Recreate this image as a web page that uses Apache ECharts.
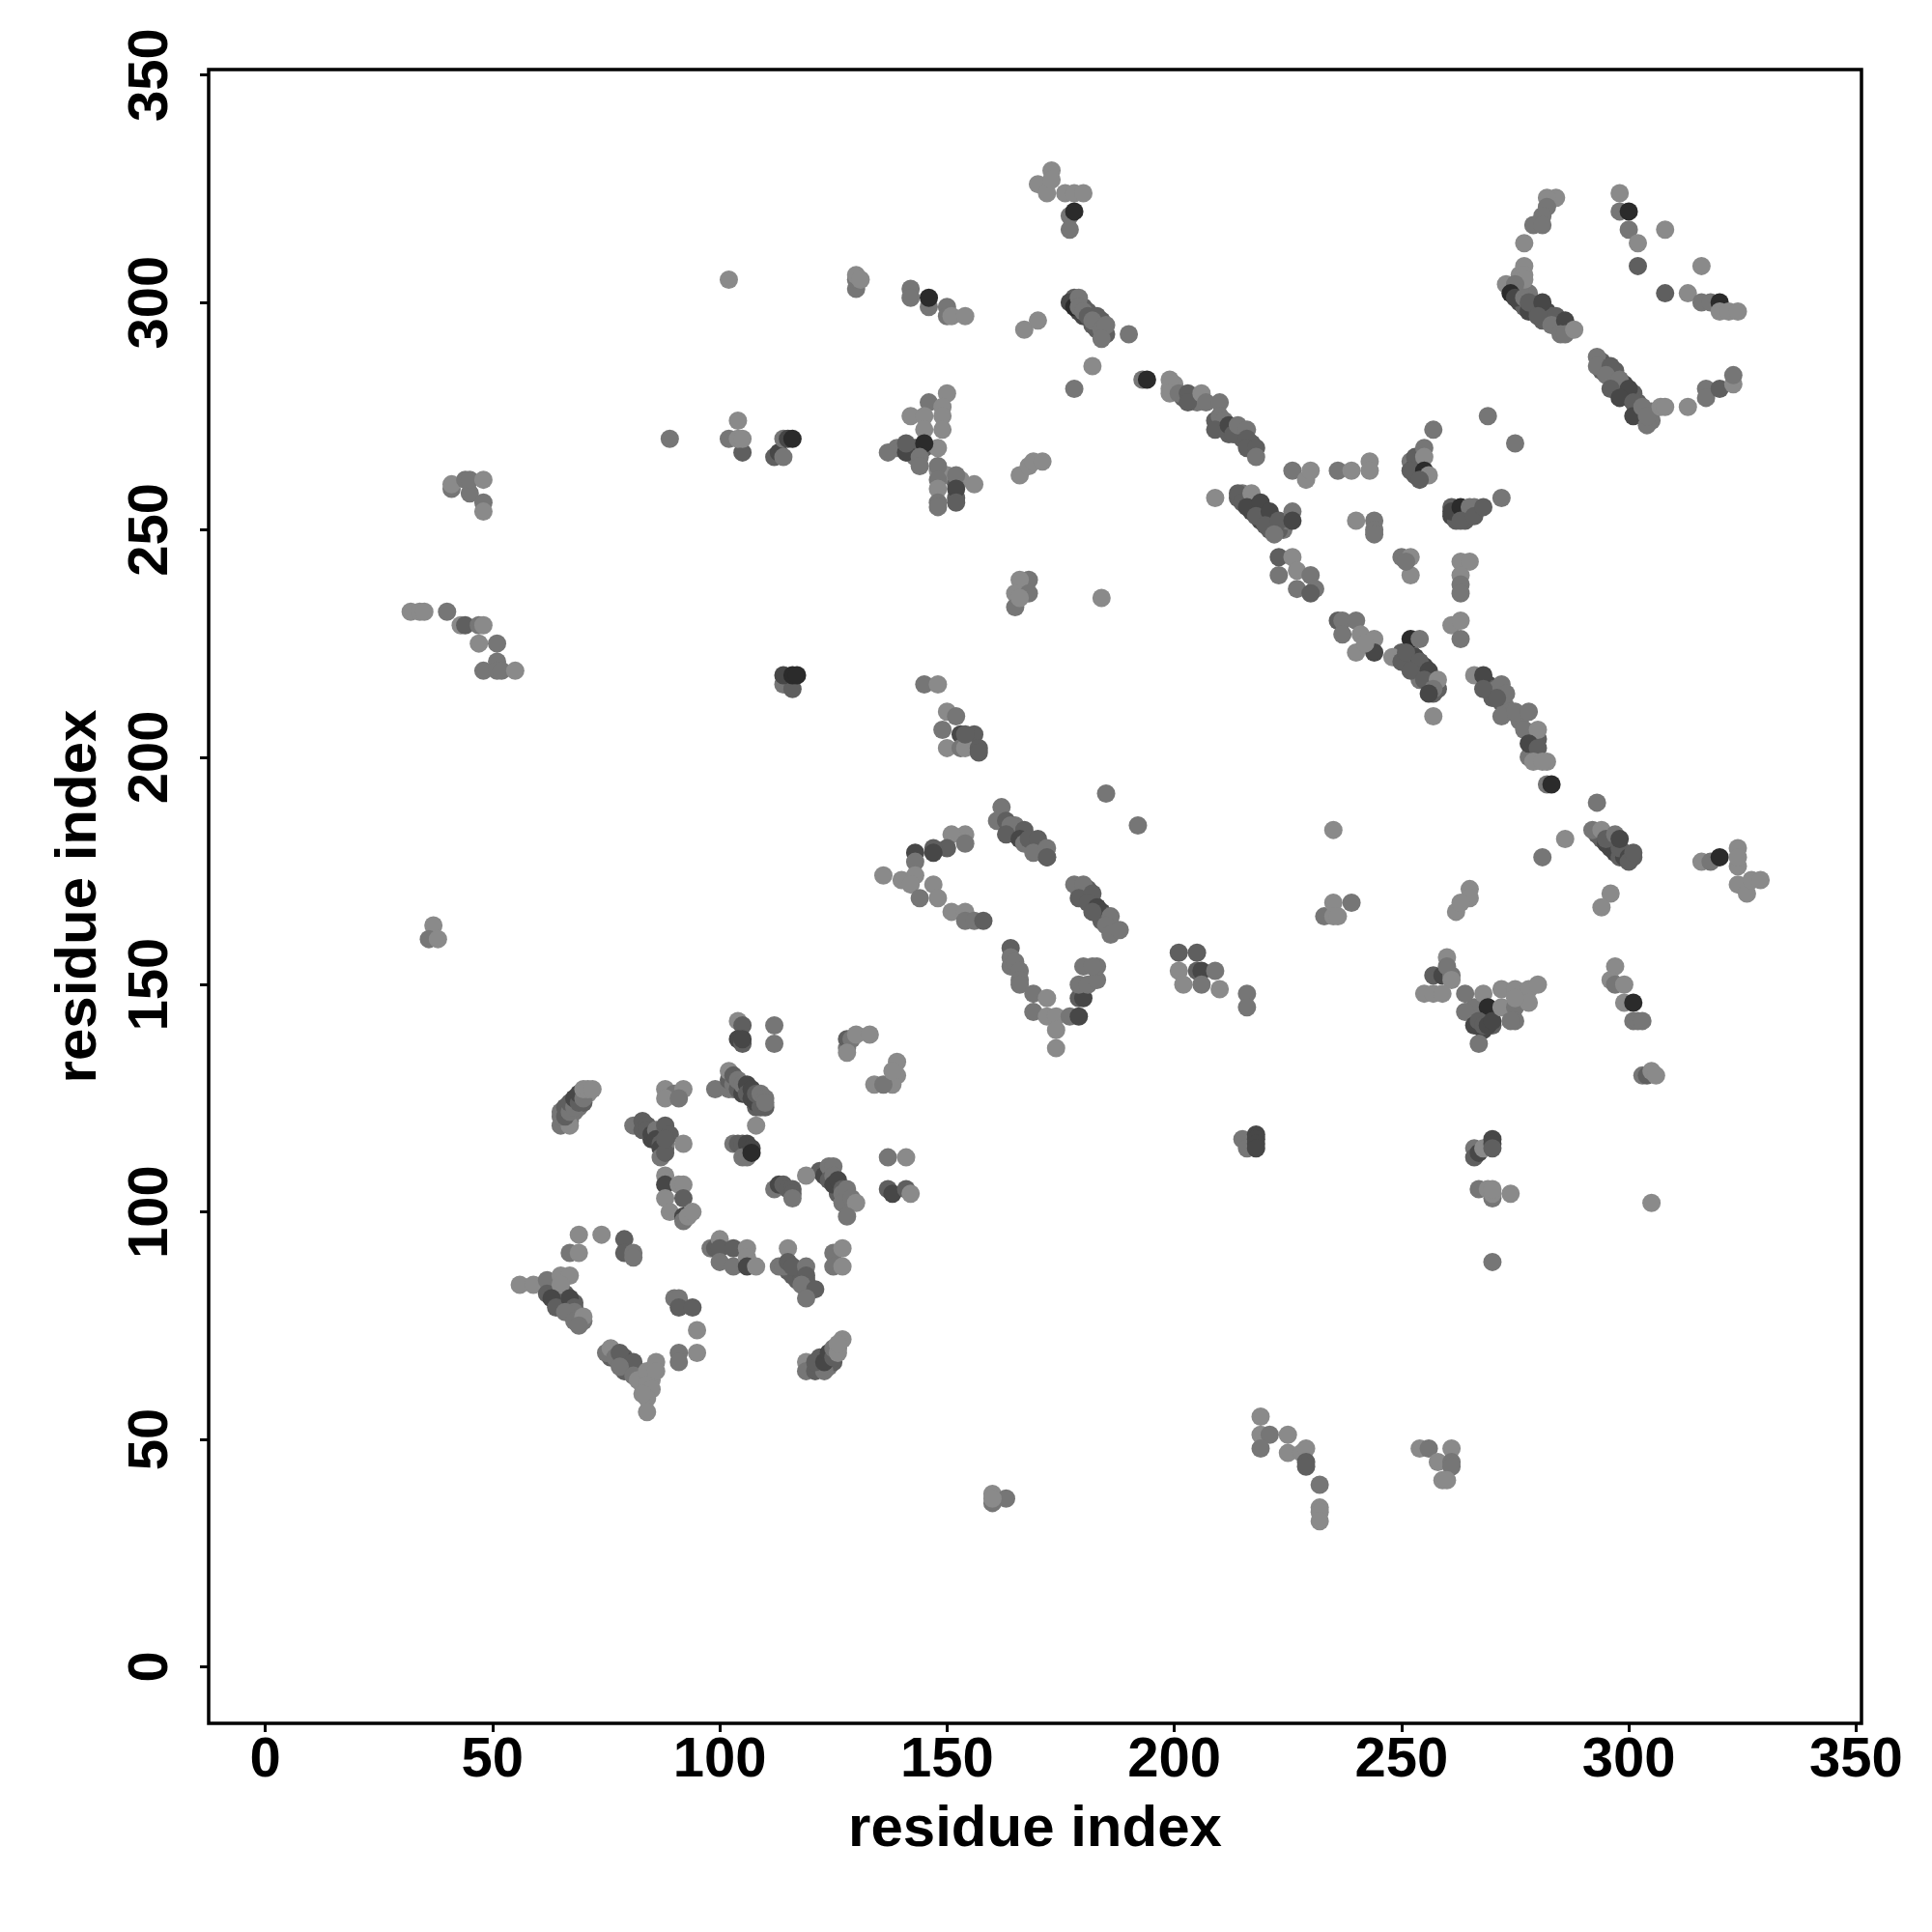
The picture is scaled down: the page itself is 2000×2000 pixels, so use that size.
<!DOCTYPE html>
<html><head><meta charset="utf-8">
<style>html,body{margin:0;padding:0;background:#fff}#c{width:2000px;height:2000px}</style>
<script src="https://cdn.jsdelivr.net/npm/echarts@6/dist/echarts.min.js"></script>
</head><body><div id="c"></div>
<script>
// each contact: [residue i, residue j, strength 1 (weak) .. 5 (strong)]
const tickValues = [0,50,100,150,200,250,300,350];
const axisTitle = 'residue index';

const contactsUnder = [[214,257,3],[215,258,2],[216,257,4],[217,256,4],[217,254,4],[218,255,5],[219,254,4],[219,252,4],[220,253,4],[221,252,4],[221,250,3],[222,251,3],[224,250,2],
 [250,223,3],[251,222,4],[252,221,4],[252,223,3],[253,220,4],[253,222,4],[254,219,4],[255,220,4],[255,218,4],[256,217,4],[256,216,3],[257,217,3],[257,214,3],[258,215,3],[254,217,2],
 [293,183,3],[294,182,3],[295,181,4],[296,182,4],[296,180,4],[297,179,4],[297,181,4],[298,178,3],[299,179,3],[299,178,4],[301,178,3],
 [163,185,3],[164,184,4],[165,183,4],[166,184,3],[167,182,4],[168,181,4],[169,180,4],[170,180,3],[171,179,4],[172,178,3],[165,185,2],
 [179,171,3],[180,170,4],[181,169,4],[181,171,3],[182,168,4],[183,167,3],[184,166,4],[184,164,3],[185,165,3],[186,163,3],[187,162,3],
 [178,301,3],[179,298,4],[180,297,4],[180,299,3],[181,298,3],[182,295,3],[183,294,3],[182,297,3],[184,296,3],[185,293,3],
 [275,302,4],[276,300,4],[277,299,3],[278,298,4],[279,299,4],[280,298,3],[281,296,3],[282,298,4],[283,297,3],[284,295,4],[285,296,3],[286,294,3],[287,294,3],[276,304,2],[278,302,2],[278,301,2],[276,306,1],
 [294,287,3],[294,285,3],[295,286,4],[296,284,3],[297,285,3],[297,282,3],[298,281,4],[299,282,4],[299,280,4],[300,279,4],[301,280,3],[302,278,3],[302,276,3],[303,275,4],[304,276,3],[305,276,2],[305,274,2],
 [212,271,3],[214,271,4],[215,270,3],[217,269,3],[209,274,3],
 [268,217,3],[269,216,4],[270,215,3],[270,213,3],[271,215,2],[272,212,3],[273,211,2],[274,210,2],[276,208,2],[279,204,3],[280,204,3],[278,200,2],
 [66,120,2],[67,120,2],[67,123,2],[68,122,2],[68,124,2],[69,123,2],[69,125,3],[70,124,3],[70,126,2],[71,126,1],
 [64,83,3],[65,81,4],[66,80,4],[66,82,3],[67,79,4],[68,80,3],[69,77,3],[70,76,2],
 [76,68,3],[77,69,2],[78,67,3],[79,68,3],[79,65,3],[80,67,4],[81,66,3],[82,65,2],[83,62,2],[83,64,2],[84,63,2],[85,63,1],
 [102,128,2],[103,129,2],[103,127,2],[104,128,3],[105,127,3],[106,127,4],[107,126,4],[108,125,4],[108,123,3],[109,124,3],[109,125,4],[110,123,3],
 [123,109,3],[124,108,3],[125,107,4],[126,106,3],[126,104,3],[127,103,3],[128,103,2],[128,104,2],
 [84,119,2],[85,118,3],[85,116,4],[86,117,3],[87,117,3],[87,116,4],[88,114,3],[88,115,2],
 [114,88,3],[115,87,3],[116,87,3],[116,86,3],[117,85,3],[118,86,3],[118,85,3],[118,87,3],[119,84,3],[119,85,3],[120,83,3],
 [122,66,2],[122,68,3],[124,67,3],[124,66,2],[125,67,3],[126,70,2],
 [252,265,2],[253,264,4],[254,265,4],[254,263,5],[255,262,3],[253,262,3],
 [261,253,4],[262,254,3],[262,252,3],[264,253,4],[264,252,3],[266,255,2],
 [145,268,3],[142,268,4],[143,268,3],[143,266,2],[144,268,3],[140,268,3],[139,268,2],[148,263,1],[149,262,2],[150,262,1],[152,260,3],[152,257,3],[153,261,1],
 [268,140,4],[269,143,3],[267,143,3],[266,144,1],[269,142,4],[270,141,3],[266,145,2],
 [200,282,1],[199,281,1],[202,279,3],[204,279,3],[205,278,2],[223,250,3],[225,252,2]];
const contactsA = [[65,119,2],[67,119,1],[65,121,2],[65,122,2],[66,121,3],[66,123,3],[67,122,2],[67,124,3],[68,123,2],[68,125,4],[69,124,3],[69,126,4],[70,125,2],[70,127,1],[71,127,1],[72,127,1],
 [88,127,1],[90,126,2],[92,127,1],[88,125,1],[91,125,2],
 [81,119,2],[83,120,3],[83,118,3],[84,119,3],[84,118,3],[85,117,4],[86,118,2],[86,116,4],[87,115,3],[87,114,4],[87,112,2],[88,113,3],[88,119,3],[89,117,3],[88,116,3],[92,115,1]];
const contactsB = [[99,127,2],[102,127,2],[102,129,3],[102,131,1],[103,128,2],[103,130,3],[104,127,3],[104,129,2],[105,126,4],[105,128,2],[106,128,4],[106,126,3],[107,127,4],[107,125,4],[108,124,4],[108,126,3],[109,123,3],[109,126,2],[110,125,2],[110,124,2],[108,119,1],
 [104,142,1],[105,141,3],[104,138,4],[105,137,3],[105,138,4],[112,141,2],[112,137,2],
 [128,136,2],[128,138,3],[129,138,2],[130,139,1],[133,139,1],[128,135,1],[139,133,1],[139,130,1],[138,128,1],[134,128,1],[136,128,2],[138,131,1]];
const contactsC = [[103,115,2],[104,115,3],[105,115,3],[106,115,4],[105,112,2],[106,112,2],[107,114,4],[107,113,5],
 [122,109,3],[123,108,4],[124,110,2],[125,110,2],[124,107,3],[125,108,2],[125,106,4],[126,107,4],[127,105,3],[127,104,2],[127,102,2],[128,105,2],[129,103,2],[130,102,1],[128,99,2],[119,108,1],
 [112,105,2],[113,106,4],[114,106,3],[115,105,3],[116,105,3],[116,104,3],[116,103,2],
 [137,112,2],[141,112,1],[137,105,3],[138,104,4],[141,105,3],[142,104,1]];
const contactsD = [[88,108,1],[88,106,4],[91,106,1],[92,106,1],[88,103,1],[92,103,3],[89,100,1],[92,99,4],[92,98,2],[93,99,1],[94,100,1],
 [98,92,2],[99,92,3],[100,94,1],[100,92,3],[100,89,2],[103,92,3],[103,88,2],[106,92,1],[106,90,1],[106,88,4],[108,88,1],
 [115,92,1],[113,88,2],[114,88,2],[115,89,3],[116,88,3],[119,88,2],[119,86,3],[118,84,2],[121,83,3],[119,81,2],
 [125,91,2],[127,92,1],[125,88,2],[127,88,1],
 [119,67,1],[119,65,2],[121,65,3],[123,65,2],[121,67,3],[123,67,4],[124,69,4],[125,68,3],[125,70,2],[127,72,1],[126,69,1],[126,71,1]];
const contactsE = [[56,84,1],[59,84,1],[62,85,2],[62,82,3],[65,86,1],[67,86,1],[65,84,1],[63,81,4],[64,79,3],[67,81,4],[68,79,3],[68,78,2],[66,78,2],[68,76,2],[70,77,1],[69,75,2],
 [69,95,1],[74,95,1],[67,91,2],[69,91,1],[79,94,3],[79,91,3],[81,91,2],[81,90,2],
 [75,69,2],[76,70,1],[77,68,2],[78,69,3],[80,66,3],[81,67,3],[78,66,2],[81,64,2],[82,63,1],[84,65,1],[86,67,1],[86,65,1],[84,62,1],[85,61,1],[84,59,1],[83,60,1],[84,56,1],
 [91,69,2],[91,67,2],[95,74,1],[95,69,1],[90,81,2],[91,81,2],[91,79,3],[94,79,3]];
const contactsF = [[164,158,3],[164,156,2],[164,154,2],[165,155,2],[166,153,2],[166,151,2],[166,150,2],[169,148,2],[172,147,1],[169,144,2],[172,143,1],[174,143,1],[174,140,1],[174,136,1],[177,143,2],[179,143,4],[179,147,3],[180,147,4],[179,150,2],[181,150,2],[183,151,2],[183,154,2],[180,154,2],[182,154,2],
 [201,157,3],[205,157,3],[201,153,1],[205,153,3],[206,153,4],[209,153,2],[202,150,1],[206,150,2],[210,149,1],[216,148,2],[216,145,2],
 [255,148,1],[257,148,1],[257,152,3],[259,152,4],[261,152,2],[260,156,1],[260,154,2],[261,151,1],[259,148,1],[264,148,2],[264,144,2],[268,148,1],[269,145,5],[266,141,4],[267,142,3],[268,141,3],[269,141,4],[270,142,4],[267,137,2],[272,149,1],[275,149,1],[278,149,1],[280,150,1],[272,145,1],[275,145,2],[278,146,1],[275,142,2],[274,142,2],[275,147,1]];
const contactsG = [[297,154,1],[296,151,1],[297,150,2],[299,150,1],[299,146,1],[301,146,5],[301,142,2],[302,142,2],[303,142,2],[303,130,2],[304,130,3],[305,131,1],[306,130,1],
 [215,116,2],[216,114,2],[218,117,4],[218,116,4],[218,115,4],[218,114,4],
 [266,114,2],[266,112,3],[267,113,4],[268,114,1],[270,116,4],[270,115,4],[270,114,3],
 [267,105,2],[269,105,1],[270,103,2],[270,104,1],[270,105,1],[274,104,1],[305,102,1],[270,89,2],
 [160,38,1],[160,36,2],[163,37,2],[160,37,1],
 [219,55,1],[219,51,1],[221,51,2],[219,48,2],[225,51,1],[225,47,1],[228,47,1],[229,48,1],[229,45,3],[229,44,3],[232,40,2],[232,35,1],[232,34,1],[232,32,1],
 [254,48,1],[256,48,2],[261,48,1],[258,45,1],[261,45,2],[261,44,2],[259,41,1],[260,41,1]];
const contactsH = [[173,329,1],[170,326,1],[172,324,1],[173,327,1],[176,324,1],[178,324,1],[180,324,1],[177,319,2],[178,320,5],[177,316,2],
 [102,305,1],[130,303,2],[130,305,2],[130,306,1],[131,305,1],
 [142,303,2],[142,301,2],[146,299,2],[146,301,5],[150,299,2],[150,297,2],[151,297,1],[154,297,1],
 [167,294,1],[170,296,1],
 [177,300,4],[178,299,5],[179,301,2],[179,299,2],[180,298,2],[181,297,3],[183,297,3],[182,296,2],[184,294,2],[185,295,2],[184,292,2],[190,293,2],[182,286,1],[178,281,2],[193,283,2],[194,283,5]];
const contactsI = [[89,270,2],[104,274,1],[102,270,2],[105,267,3],[104,270,1],[105,270,1],
 [112,266,3],[113,267,4],[114,266,2],[114,270,2],[115,270,4],[116,270,5],
 [150,280,1],[146,278,2],[149,277,1],[142,275,1],[145,275,1],[149,275,1],[145,272,1],[149,272,1],[148,268,1],[137,267,2],[141,267,4],[141,269,3],[145,269,5],[144,266,2],[144,264,2],[148,264,2],[148,261,2],[152,262,2],[152,259,4],[148,259,1],[148,256,2],[148,255,2],[152,256,3],[156,260,1],
 [166,262,1],[168,264,1],[169,265,1],[171,265,1],
 [41,259,2],[41,260,1],[44,261,2],[45,258,2],[45,261,2],[48,261,1],[48,256,2],[48,254,1],
 [32,232,1],[34,232,1],[35,232,1],[40,232,2],[43,229,1],[44,229,3],[47,229,2],[48,229,1],[47,225,1],[51,225,2],[48,219,2],[51,221,2],[51,219,2],[52,219,2],[55,219,1],
 [168,239,2],[166,239,1],[165,236,1],[168,236,2],[165,233,2],[166,235,1],[184,235,1]];
const contactsJ = [[114,216,2],[116,215,3],[114,218,4],[116,218,5],[117,218,5],[145,216,2],[148,216,1],
 [150,210,1],[152,209,2],[149,206,2],[153,205,4],[156,205,3],[150,202,1],[153,202,2],[154,202,1],[157,202,3],[157,201,3],[154,205,3],
 [185,192,2],[192,185,2],
 [162,189,2],[161,186,2],[163,186,3],[164,185,2],[163,183,3],[167,184,3],[166,182,4],[167,181,2],[168,182,3],[170,182,3],[169,179,2],[172,180,2],[172,178,3],
 [154,183,1],[151,183,1],[154,181,2],[150,180,3],[147,180,3],[147,179,4],[143,179,4],[143,177,2],
 [136,174,1],[140,173,1],[143,174,1],[142,172,1],[147,172,1],[144,169,2],[148,169,1],[151,166,1],[154,166,1],[154,164,2],[156,164,2],[158,164,3],
 [178,172,2],[180,172,2],[179,169,3],[182,170,3],[181,168,3],[183,167,4],[182,166,3],[186,165,2],[185,163,2],[186,161,2],[188,162,2],
 [37,163,1],[36,160,2],[38,160,1]];
const contactsK = [[199,283,1],[199,280,1],[201,280,2],[203,280,3],[203,278,3],[206,280,1],[207,278,2],[210,278,2],[210,275,2],[211,274,2],[209,272,3],[212,273,4],[213,271,3],[214,273,2],[216,272,2],[216,270,3],[216,268,3],[218,268,3],[218,266,2],
 [209,257,1],[214,258,3],[215,256,3],[217,258,1],[216,255,4],[219,256,4],[218,253,3],[221,254,4],[220,251,3],[223,252,3],[222,249,2],[226,254,2],[226,252,4],
 [223,244,3],[223,240,2],[226,244,1],[227,241,1],[230,240,2],[227,237,2],[231,237,2],[230,236,3],
 [226,263,2],[229,261,1],[230,263,1],[236,263,2],[239,263,1],[243,265,1],[243,263,1],
 [240,252,1],[244,252,2],[244,250,2],[244,249,2],
 [250,244,2],[252,244,1],[252,240,1],[251,243,2],
 [263,243,1],[265,243,1],[263,240,1],[263,238,2],[263,236,2],
 [236,230,3],[237,230,2],[240,230,2],[237,227,2],[241,227,1],[244,226,1],[240,223,1],[244,223,4],[242,225,1],
 [252,226,5],[254,226,2],[248,222,1],[250,221,3],[251,223,3],[254,221,3],[252,219,3],[256,219,4],[255,217,3],[258,217,1],[257,215,2],[256,214,4],[257,209,1],
 [261,229,1],[263,230,1],[263,226,2]];
const contactsL = [[266,218,1],[268,218,4],[268,215,3],[272,216,2],[273,214,2],[271,213,3],[272,209,2],[275,210,2],[278,210,2],[277,206,2],[280,206,1],[278,203,4],[280,202,3],[279,199,1],[282,199,1],[281,199,1],[282,194,2],[283,194,5],
 [293,190,2],[292,184,2],[294,184,1],[295,182,3],[297,183,2],[298,180,3],[298,182,4],[300,178,4],[300,177,3],[301,179,3],[286,182,1],[281,178,2],
 [235,184,1],[316,177,1],[318,177,2],[320,178,5],[324,180,1],[324,176,1],[324,178,1],[324,172,1],[326,170,1],[327,173,1],[329,173,1],
 [296,170,1],[294,167,1],
 [233,165,2],[235,168,1],[235,165,1],[236,165,1],[239,168,2],[265,171,1],[265,169,1],[262,166,1],[263,168,1]];
const contactsM = [[284,323,1],[282,323,1],[282,321,2],[281,319,2],[279,317,2],[281,317,2],[277,313,1],[277,308,1],[277,306,1],[277,305,1],[273,304,1],[275,304,2],
 [274,302,5],[275,301,4],[277,301,2],[278,300,3],[281,300,4],[280,297,3],[284,297,3],[283,295,2],[286,296,4],[285,293,2],[286,293,2],[288,294,1],
 [298,324,1],[298,320,2],[300,320,5],[300,316,2],[302,313,1],[308,316,1],[302,308,3],[308,302,3],[316,308,1],[313,302,1],[316,300,2],[318,300,2],[320,300,5],[320,298,1],[322,298,1],[324,298,1],
 [293,288,2],[293,286,2],[296,286,3],[295,284,2],[298,283,2],[296,281,3],[300,281,4],[298,279,4],[301,278,3],[301,275,4],[303,277,2],[304,273,2],[304,275,2],[307,277,1],[308,277,1],[313,277,1],
 [317,281,2],[317,279,2],[320,281,3],[323,282,1],[323,284,2],
 [257,272,2],[269,275,2],[275,269,2],
 [253,266,3],[255,268,2],[255,266,1],[252,263,3],[255,263,5],[256,262,1],[254,261,3],
 [261,255,3],[261,254,4],[263,255,5],[265,255,2],[263,252,3],[266,253,3],[268,255,3],[272,257,2]];

const shades = ['#8a8a8a','#767676','#5f5f5f','#474747','#2b2b2b'];
const contacts = [].concat(contactsUnder,contactsA,contactsB,contactsC,contactsD,contactsE,contactsF,contactsG,contactsH,contactsI,contactsJ,contactsK,contactsL,contactsM);

const baseText = {fontFamily:'"Liberation Sans"',fontWeight:'bold',color:'#000'};
function axis(extra){
  return Object.assign({
    type:'value',min:-12.45,max:351.2,
    name:axisTitle,nameLocation:'middle',
    nameTextStyle:Object.assign({fontSize:60},baseText),
    axisLine:{show:false,onZero:false},splitLine:{show:false},
    axisTick:{show:true,customValues:tickValues,length:9,lineStyle:{color:'#000',width:3}}
  },extra);
}
const chart = echarts.init(document.getElementById('c'),null,{renderer:'canvas'});
chart.setOption({
  animation:false,
  backgroundColor:'#fff',
  grid:{left:216,top:72,width:1711,height:1712,show:true,borderColor:'#000',borderWidth:3.5,backgroundColor:'transparent'},
  xAxis:axis({nameGap:80,axisLabel:Object.assign({customValues:tickValues,fontSize:58,margin:10,hideOverlap:false},baseText)}),
  yAxis:axis({nameGap:104,axisLabel:Object.assign({customValues:tickValues,fontSize:58,margin:30,rotate:90,hideOverlap:false,align:'center',verticalAlign:'bottom'},baseText)}),
  series:[{type:'scatter',data:contacts,symbol:'circle',symbolSize:19,silent:true,clip:true,
    itemStyle:{opacity:1,color:p=>shades[p.value[2]-1]}}]
});
</script></body></html>
